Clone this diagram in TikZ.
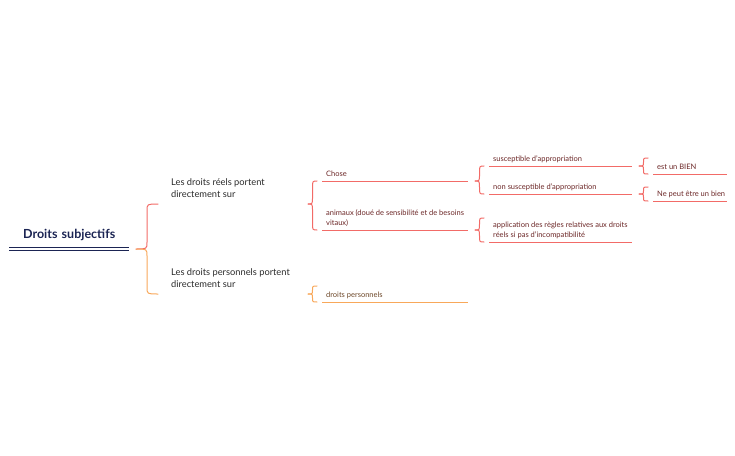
\documentclass[tikz,border=0pt]{standalone}
\usepackage{fontspec}
\setmainfont{Lato}
\usetikzlibrary{calc}

\definecolor{navy}{HTML}{1B2453}
\definecolor{lred}{HTML}{F26B67}
\definecolor{lorange}{HTML}{F8A85A}
\definecolor{tred}{HTML}{6B2626}
\definecolor{torange}{HTML}{6B4526}
\definecolor{tdark}{HTML}{2B2B2B}

\tikzset{
  topic/.style={anchor=south west, align=left, inner xsep=4pt, inner ysep=1.5pt,
    font=\fontsize{7.5}{9.5}\selectfont, execute at end node=\strut},
  rootbox/.style={anchor=south west, align=center, inner xsep=0pt, inner ysep=6pt,
    text width=120pt, text=navy, font=\fontsize{12.5}{15}\selectfont\bfseries,
    execute at end node=\strut},
  branch/.style={topic, inner xsep=8pt, inner ysep=2.5pt, text=tdark,
    font=\fontsize{9.3}{12}\selectfont},
  leaf/.style={topic, text=#1},
  link/.style={line width=1pt, line cap=round},
  uline/.style={line width=1pt},
  dline/.style={double=white, double distance=1.4pt, line width=0.7pt},
}

% half of a curly brace, from the point to one end
\newcommand{\halfbrace}[3]{%
  \draw[link, #3] let \p1=(#1), \p2=(#2), \n1={(\x1+\x2)/2},
    \n2={ifthenelse(\y2>\y1,1,-1)*min(7,abs(\y2-\y1)/2)} in
    (\p1) .. controls (\n1,\y1) .. (\n1,\y1+\n2) -- (\n1,\y2-\n2)
    .. controls (\n1,\y2) .. (\p2);}

\begin{document}
\begin{tikzpicture}[x=1pt,y=-1pt]
\useasboundingbox (0,0) rectangle (735,455);

% topics, placed at the left end of their underline
\node[rootbox] (root) at (9,249) {Droits subjectifs};
\node[branch] (reel) at (163,204) {Les droits réels portent\\directement sur};
\node[branch] (pers) at (163,294) {Les droits personnels portent\\directement sur};
\node[leaf=tred] (chose) at (322,181) {Chose};
\node[leaf=tred] (anim) at (322,230) {animaux (doué de sensibilité et de besoins\\vitaux)};
\node[leaf=torange] (dpers) at (322,302) {droits personnels};
\node[leaf=tred] (susc) at (489,166) {susceptible d'appropriation};
\node[leaf=tred] (nsusc) at (489,194) {non susceptible d'appropriation};
\node[leaf=tred] (appl) at (489,242) {application des règles relatives aux droits\\réels si pas d'incompatibilité};
\node[leaf=tred] (bien) at (653,174) {est un BIEN};
\node[leaf=tred] (nbien) at (653,201) {Ne peut être un bien};

% free ends of the single-child braces
\coordinate (dpers-t) at (317,286);
\coordinate (appl-t) at (484,218);
\coordinate (bien-t) at (648,158);
\coordinate (nbien-t) at (648,187);

% underlines, each ending in a coordinate (name-e)
\draw[navy, dline, line width=1.1pt, double distance=1.2pt] (root.south west) -- ++(120,0) coordinate (root-e);
\foreach \t/\l/\c in {reel/138/lred, pers/138/lorange}
  \draw[dline, \c] (\t.south west) -- ++(\l,0) coordinate (\t-e);
\foreach \t/\l/\c in {chose/146/lred, anim/146/lred, dpers/146/lorange, susc/143/lred,
    nsusc/143/lred, appl/143/lred, bien/74/lred, nbien/74/lred}
  \draw[uline, \c] (\t.south west) -- ++(\l,0) coordinate (\t-e);

% braces
\foreach \a/\b/\c in {root/reel/lred, root/pers/lorange, reel/chose/lred, reel/anim/lred,
    pers/dpers/lorange, chose/susc/lred, chose/nsusc/lred, anim/appl/lred,
    susc/bien/lred, nsusc/nbien/lred}
  \halfbrace{$(\a-e)+(7,0)$}{$(\b.south west)+(-5,0)$}{\c};
\foreach \a/\b/\c in {pers/dpers-t/lorange, anim/appl-t/lred, susc/bien-t/lred, nsusc/nbien-t/lred}
  \halfbrace{$(\a-e)+(7,0)$}{\b}{\c};

\end{tikzpicture}
\end{document}
